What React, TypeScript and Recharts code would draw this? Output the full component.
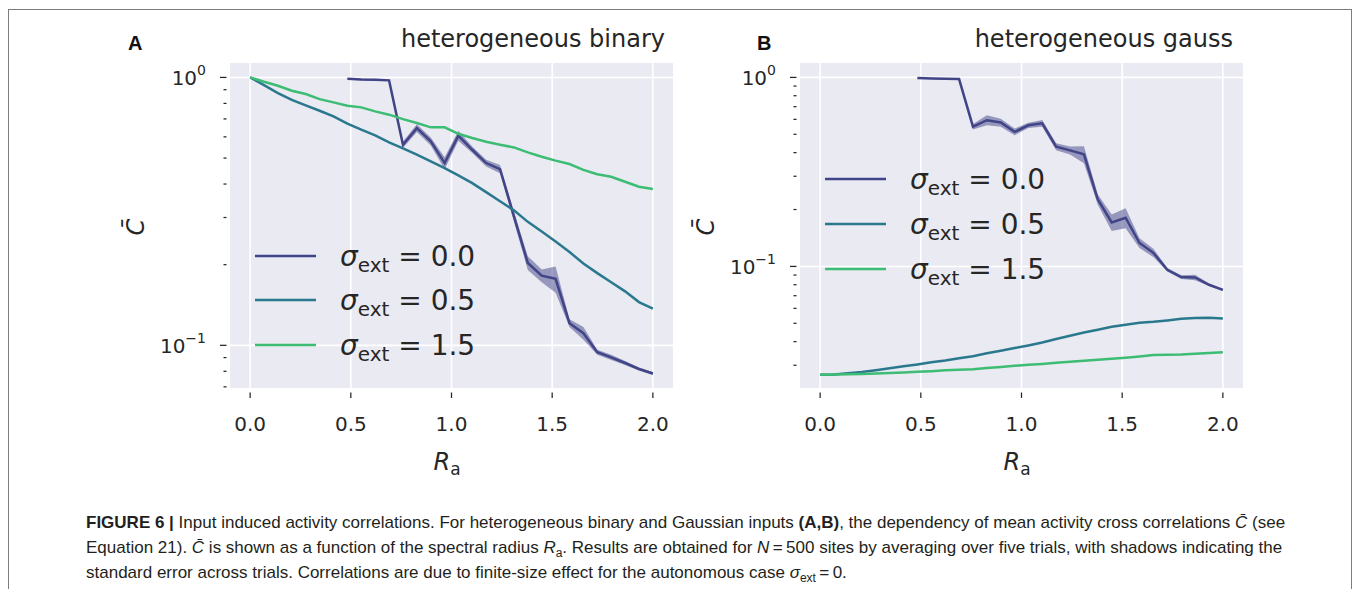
import React from 'react';
import { ComposedChart, Line, Area, XAxis, YAxis, CartesianGrid } from 'recharts';

// spectral radius R_a (30 samples between 0 and 2)
const R_VALUES = [
  0, 0.069, 0.138, 0.207, 0.276, 0.345, 0.414, 0.483, 0.552, 0.621,
  0.69, 0.759, 0.828, 0.897, 0.966, 1.034, 1.103, 1.172, 1.241, 1.31,
  1.379, 1.448, 1.517, 1.586, 1.655, 1.724, 1.793, 1.862, 1.931, 2.0,
];

// panel A: heterogeneous binary
const BINARY_S00 = [
  null, null, null, null, null, null, null, 0.989, 0.983, 0.98,
  0.975, 0.561, 0.647, 0.577, 0.479, 0.606, 0.537, 0.479, 0.455, 0.303,
  0.203, 0.182, 0.177, 0.121, 0.111, 0.0942, 0.0902, 0.0859, 0.0816, 0.0785,
];
const BINARY_S00_ERR = [
  null, null, null, null, null, null, null, 0.006, 0.006, 0.006,
  0.006, 0.016, 0.022, 0.02, 0.025, 0.026, 0.015, 0.014, 0.016, 0.013,
  0.012, 0.01, 0.02, 0.004, 0.006, 0.002, 0.002, 0.0015, 0.001, 0.001,
];
const BINARY_S05 = [
  1.0, 0.936, 0.874, 0.825, 0.786, 0.751, 0.715, 0.672, 0.638, 0.608,
  0.572, 0.543, 0.515, 0.486, 0.459, 0.431, 0.403, 0.373, 0.345, 0.319,
  0.289, 0.266, 0.244, 0.223, 0.202, 0.186, 0.172, 0.159, 0.145, 0.137,
];
const BINARY_S15 = [
  1.0, 0.963, 0.931, 0.892, 0.867, 0.83, 0.807, 0.784, 0.773, 0.747,
  0.726, 0.699, 0.676, 0.651, 0.651, 0.616, 0.594, 0.575, 0.561, 0.548,
  0.525, 0.506, 0.489, 0.475, 0.452, 0.435, 0.426, 0.408, 0.391, 0.383,
];

// panel B: heterogeneous gauss
const GAUSS_S00 = [
  null, null, null, null, null, null, null, 0.992, 0.988, 0.984,
  0.98, 0.549, 0.594, 0.577, 0.515, 0.558, 0.572, 0.43, 0.411, 0.392,
  0.226, 0.171, 0.181, 0.133, 0.118, 0.096, 0.0878, 0.0874, 0.08, 0.0751,
];
const GAUSS_S00_ERR = [
  null, null, null, null, null, null, null, 0.008, 0.008, 0.008,
  0.008, 0.018, 0.036, 0.028, 0.021, 0.018, 0.023, 0.018, 0.02, 0.04,
  0.014, 0.017, 0.022, 0.008, 0.006, 0.002, 0.002, 0.003, 0.0013, 0.0009,
];
const GAUSS_S05 = [
  0.0267, 0.0268, 0.0272, 0.0276, 0.0282, 0.0289, 0.0296, 0.0303, 0.0311, 0.0318,
  0.0327, 0.0335, 0.0347, 0.0358, 0.037, 0.0382, 0.0396, 0.0413, 0.043, 0.0447,
  0.0462, 0.0479, 0.0491, 0.0503, 0.0509, 0.0518, 0.0528, 0.0533, 0.0535, 0.0531,
];
const GAUSS_S15 = [
  0.0267, 0.0268, 0.0269, 0.027, 0.0271, 0.0273, 0.0275, 0.0277, 0.0279, 0.0282,
  0.0284, 0.0286, 0.029, 0.0294, 0.0298, 0.0302, 0.0305, 0.0309, 0.0313, 0.0317,
  0.0321, 0.0325, 0.0329, 0.0334, 0.034, 0.0341, 0.0342, 0.0345, 0.0348, 0.0351,
];

const SIGMAS = ['0.0', '0.5', '1.5'];
const COLORS = ['#414487', '#2a788e', '#3dbc74'];
const X_TICKS = [0, 0.5, 1, 1.5, 2];
const Y_TICKS_A = [0.07, 0.08, 0.09, 0.1, 0.2, 0.3, 0.4, 0.5, 0.6, 0.7, 0.8, 0.9, 1];
const Y_TICKS_B = [0.03, 0.04, 0.05, 0.06, 0.07, 0.08, 0.09, 0.1, 0.2, 0.3, 0.4, 0.5, 0.6, 0.7, 0.8, 0.9, 1];

const INK = '#262626';
const FONT = '"DejaVu Sans", sans-serif';

function buildRows(s00: (number | null)[], err: (number | null)[], s05: number[], s15: number[]) {
  return R_VALUES.map((r, i) => {
    const v = s00[i];
    const e = err[i];
    return {
      r,
      s00: v,
      s05: s05[i],
      s15: s15[i],
      band: v == null || e == null ? null : [v - e, v + e],
    };
  });
}

function YTick({ x, y, payload }: any) {
  const lg = Math.log10(payload.value);
  const exp = Math.round(lg);
  const major = Math.abs(lg - exp) < 1e-6;
  return (
    <g>
      <line x1={x - (major ? 10 : 6.5)} x2={x - 3.5} y1={y} y2={y} stroke={INK} strokeWidth={1.25} />
      {major && (
        <text x={x - 24} y={y + 7.3} textAnchor="end" fontFamily={FONT} fontSize={20} fill={INK}>
          10
          <tspan dy={-10} fontSize={14}>{exp < 0 ? `\u2212${-exp}` : String(exp)}</tspan>
        </text>
      )}
    </g>
  );
}

function XTick({ x, y, payload }: any) {
  return (
    <g>
      <line x1={x} x2={x} y1={y + 4.5} y2={y + 10} stroke={INK} strokeWidth={1.25} />
      <text x={x} y={y + 43} textAnchor="middle" fontFamily={FONT} fontSize={20} fill={INK}>
        {Number(payload.value).toFixed(1)}
      </text>
    </g>
  );
}

function Panel({ rows, domain, ticks }: { rows: any[]; domain: [number, number]; ticks: number[] }) {
  return (
    <ComposedChart
      width={700}
      height={480}
      data={rows}
      margin={{ top: 63, right: 27, bottom: 32, left: 130 }}
    >
      <CartesianGrid
        fill="#eaeaf2"
        stroke="#ffffff"
        strokeWidth={1.6}
        horizontalValues={[0.1, 1]}
        verticalValues={X_TICKS}
      />
      <XAxis
        dataKey="r"
        type="number"
        domain={[-0.1, 2.1]}
        ticks={X_TICKS}
        interval={0}
        allowDataOverflow
        axisLine={false}
        tickLine={false}
        tickSize={0}
        tickMargin={0}
        height={60}
        tick={<XTick />}
      />
      <YAxis
        scale="log"
        type="number"
        domain={domain}
        ticks={ticks}
        interval={0}
        allowDataOverflow
        axisLine={false}
        tickLine={false}
        tickSize={0}
        tickMargin={0}
        width={100}
        tick={<YTick />}
      />
      <Area
        dataKey="band"
        type="linear"
        fill={COLORS[0]}
        fillOpacity={0.5}
        stroke="none"
        isAnimationActive={false}
      />
      <Line dataKey="s00" type="linear" stroke={COLORS[0]} strokeWidth={2.5} dot={false} isAnimationActive={false} />
      <Line dataKey="s05" type="linear" stroke={COLORS[1]} strokeWidth={2.5} dot={false} isAnimationActive={false} />
      <Line dataKey="s15" type="linear" stroke={COLORS[2]} strokeWidth={2.5} dot={false} isAnimationActive={false} />
    </ComposedChart>
  );
}

function Decorations({ ox, letterX, titleEnd, title, legendX, legendY }: any) {
  return (
    <g>
      <text x={letterX} y={50} fontFamily='"Liberation Sans", Arial, sans-serif' fontWeight="bold" fontSize={20} fill="#111">
        {ox === 0 ? 'A' : 'B'}
      </text>
      <text x={titleEnd} y={47} textAnchor="end" fontFamily={FONT} fontSize={24} fill={INK}>
        {title}
      </text>
      <text
        x={ox + 136}
        y={227}
        transform={`rotate(-90 ${ox + 136} 227)`}
        textAnchor="middle"
        dominantBaseline="central"
        fontFamily={FONT}
        fontSize={24}
        fontStyle="italic"
        fill={INK}
      >
        {'C\u0304'}
      </text>
      <text x={ox + 447} y={470} textAnchor="middle" fontFamily={FONT} fontSize={24} fill={INK}>
        <tspan fontStyle="italic">R</tspan>
        <tspan fontSize={17} dy={5}>a</tspan>
      </text>
      {SIGMAS.map((s, i) => (
        <g key={s}>
          <line x1={legendX} x2={legendX + 61} y1={legendY[i]} y2={legendY[i]} stroke={COLORS[i]} strokeWidth={2.5} />
          <text x={legendX + 85} y={legendY[i] + 10} fontFamily={FONT} fontSize={28} fill={INK}>
            <tspan fontStyle="italic">{'\u03c3'}</tspan>
            <tspan fontSize={20} dy={6}>ext</tspan>
            <tspan dy={-6}>{` = ${s}`}</tspan>
          </text>
        </g>
      ))}
    </g>
  );
}

const sub: React.CSSProperties = { fontSize: 12, verticalAlign: 'sub', lineHeight: 0 };

export default function App() {
  const rowsA = buildRows(BINARY_S00, BINARY_S00_ERR, BINARY_S05, BINARY_S15);
  const rowsB = buildRows(GAUSS_S00, GAUSS_S00_ERR, GAUSS_S05, GAUSS_S15);

  return (
    <div style={{ position: 'absolute', left: 0, top: 0, width: 1358, height: 589, overflow: 'hidden', background: '#fff' }}>
      <div style={{ position: 'absolute', left: 8, top: 9, width: 1342, height: 700, border: '1px solid #7c7c7c' }} />
      <div style={{ position: 'absolute', left: 0, top: 0 }}>
        <Panel rows={rowsA} domain={[0.0693, 1.132]} ticks={Y_TICKS_A} />
      </div>
      <div style={{ position: 'absolute', left: 570, top: 0 }}>
        <Panel rows={rowsB} domain={[0.02274, 1.192]} ticks={Y_TICKS_B} />
      </div>
      <svg width={1358} height={500} style={{ position: 'absolute', left: 0, top: 0, pointerEvents: 'none' }}>
        <Decorations ox={0} letterX={128} titleEnd={665} title="heterogeneous binary" legendX={255} legendY={[256, 300, 345]} />
        <Decorations ox={570} letterX={757} titleEnd={1233} title="heterogeneous gauss" legendX={825} legendY={[179, 224, 269]} />
      </svg>
      <div
        style={{
          position: 'absolute',
          left: 86,
          top: 510,
          fontFamily: '"Liberation Sans", Arial, sans-serif',
          fontSize: 17,
          lineHeight: '25px',
          color: '#231f20',
          whiteSpace: 'nowrap',
        }}
      >
        <b>FIGURE 6 |</b> Input induced activity correlations. For heterogeneous binary and Gaussian inputs <b>(A,B)</b>, the
        dependency of mean activity cross correlations <i>{'C\u0304'}</i> (see
        <br />
        Equation 21). <i>{'C\u0304'}</i> is shown as a function of the spectral radius <i>R</i>
        <span style={sub}>a</span>. Results are obtained for <i>N</i>&#8201;=&#8201;500 sites by averaging over five trials, with
        shadows indicating the
        <br />
        standard error across trials. Correlations are due to finite-size effect for the autonomous case <i>{'\u03c3'}</i>
        <span style={sub}>ext</span>&#8201;=&#8201;0.
      </div>
    </div>
  );
}
